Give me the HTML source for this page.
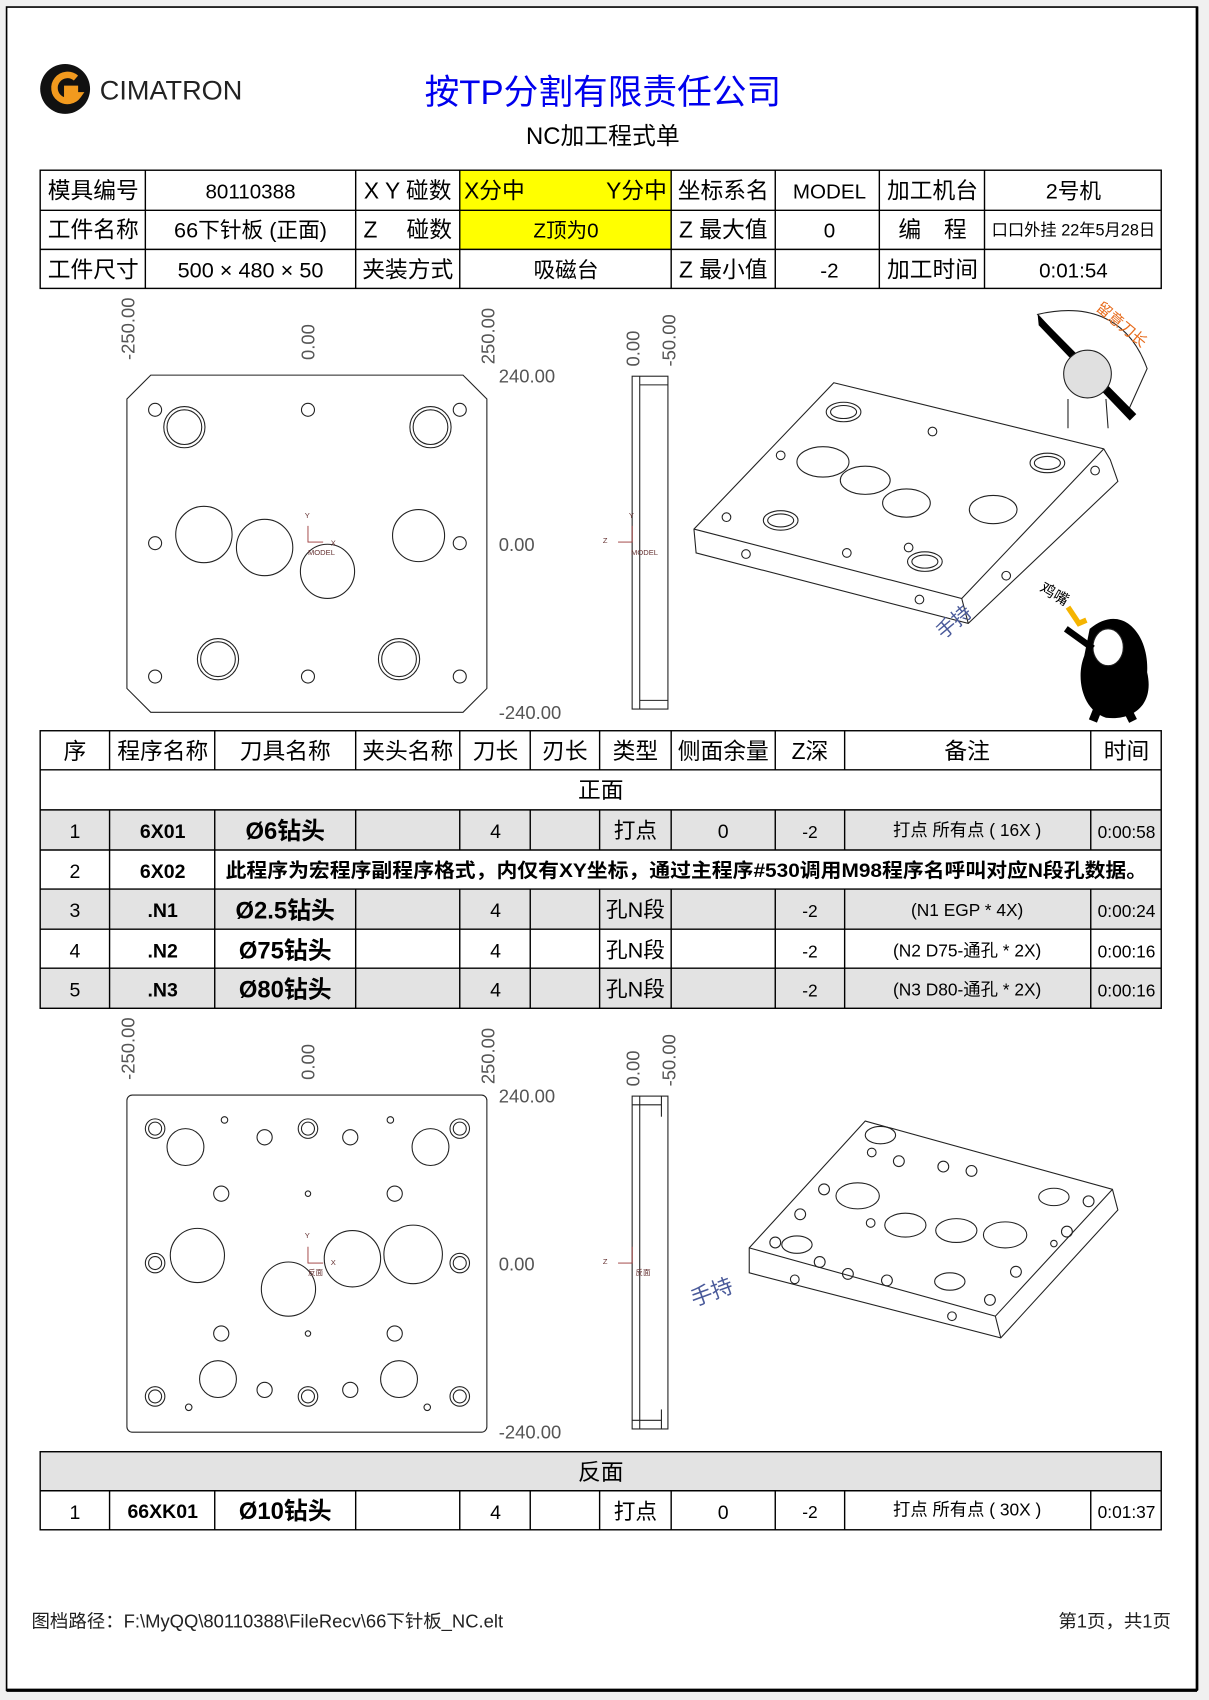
<!DOCTYPE html>
<html><head><meta charset="utf-8"><style>
html,body{margin:0;padding:0;background:#f0f0f0;}
svg{display:block;}
text{font-family:"Liberation Sans","Noto Sans CJK SC",sans-serif;}
</style></head><body>
<svg width="1209" height="1700" viewBox="0 0 1115 1568" xmlns="http://www.w3.org/2000/svg">
<rect x="0" y="0" width="1115" height="1568" fill="#f0f0f0"/>
<rect x="6" y="6.5" width="1098" height="1552.5" fill="#fff" stroke="#000" stroke-width="1.5"/>
<line x1="6" y1="1559" x2="1104" y2="1559" stroke="#000" stroke-width="3"/>
<line x1="1104" y1="6" x2="1104" y2="1559" stroke="#000" stroke-width="2.5"/>

<!-- logo -->
<circle cx="60" cy="82" r="23" fill="#111"/>
<path d="M70 72 A12 12 0 1 0 72 88 L62 88 L62 82 L72 82" fill="none" stroke="#f29a1e" stroke-width="6"/>
<text x="92" y="92" font-size="25" fill="#222">CIMATRON</text>
<text x="556" y="96" font-size="32" fill="#0000ee" text-anchor="middle">按TP分割有限责任公司</text>
<text x="556" y="133" font-size="22" fill="#000" text-anchor="middle">NC加工程式单</text>

<!-- table 1 -->
<rect x="424" y="157" width="195" height="73" fill="#ffff00"/>
<g stroke="#000" stroke-width="1.3" fill="none">
<rect x="37" y="157" width="1034" height="109"/>
<line x1="37" y1="194" x2="1071" y2="194"/><line x1="37" y1="230" x2="1071" y2="230"/>
<line x1="134" y1="157" x2="134" y2="266"/><line x1="328" y1="157" x2="328" y2="266"/>
<line x1="424" y1="157" x2="424" y2="266"/><line x1="619" y1="157" x2="619" y2="266"/>
<line x1="715" y1="157" x2="715" y2="266"/><line x1="811" y1="157" x2="811" y2="266"/>
<line x1="908" y1="157" x2="908" y2="266"/>
</g>
<g font-size="21" fill="#000" text-anchor="middle">
<text x="86" y="183">模具编号</text><text x="231" y="183" font-size="19">80110388</text>
<text x="376" y="183">X Y 碰数</text><text x="765" y="183" font-size="19">MODEL</text>
<text x="667" y="183">坐标系名</text><text x="860" y="183">加工机台</text><text x="990" y="183" font-size="20">2号机</text>
<text x="86" y="219">工件名称</text><text x="231" y="219" font-size="20">66下针板 (正面)</text>
<text x="376" y="219">Z　 碰数</text><text x="522" y="219" font-size="19">Z顶为0</text>
<text x="667" y="219">Z 最大值</text><text x="765" y="219" font-size="19">0</text>
<text x="860" y="219">编　程</text><text x="990" y="217" font-size="15">口口外挂 22年5月28日</text>
<text x="86" y="256">工件尺寸</text><text x="231" y="256" font-size="20">500 × 480 × 50</text>
<text x="376" y="256">夹装方式</text><text x="522" y="256" font-size="20">吸磁台</text>
<text x="667" y="256">Z 最小值</text><text x="765" y="256" font-size="19">-2</text>
<text x="860" y="256">加工时间</text><text x="990" y="256" font-size="19">0:01:54</text>
</g>
<text x="428" y="183" font-size="21">X分中</text><text x="615" y="183" font-size="21" text-anchor="end">Y分中</text>

<!-- top drawing -->
<g stroke="#222" stroke-width="1" fill="none">
<path d="M139 346 L427 346 L449 368 L449 635 L427 657 L139 657 L117 635 L117 368 Z"/>
<circle cx="143" cy="378" r="6"/><circle cx="284" cy="378" r="6"/><circle cx="424" cy="378" r="6"/>
<circle cx="143" cy="501" r="6"/><circle cx="424" cy="501" r="6"/>
<circle cx="143" cy="624" r="6"/><circle cx="284" cy="624" r="6"/><circle cx="424" cy="624" r="6"/>
<circle cx="170" cy="394" r="19"/><circle cx="170" cy="394" r="16"/>
<circle cx="397" cy="394" r="19"/><circle cx="397" cy="394" r="16"/>
<circle cx="201" cy="608" r="19"/><circle cx="201" cy="608" r="16"/>
<circle cx="368" cy="608" r="19"/><circle cx="368" cy="608" r="16"/>
<circle cx="188" cy="493" r="26"/><circle cx="244" cy="505" r="26"/>
<circle cx="302" cy="527" r="25"/><circle cx="386" cy="494" r="24"/>
<rect x="583" y="347" width="33" height="307"/>
<line x1="590" y1="347" x2="590" y2="654"/><line x1="590" y1="355" x2="616" y2="355"/><line x1="590" y1="646" x2="616" y2="646"/>
</g>
<g stroke="#933" stroke-width="0.8" fill="none"><path d="M284 485 V500 H298"/><path d="M583 485 V500 H570"/></g>
<g font-size="7" fill="#633"><text x="281" y="478">Y</text><text x="305" y="503">X</text><text x="284" y="512">MODEL</text>
<text x="556" y="501">Z</text><text x="582" y="512">MODEL</text><text x="580" y="478">Y</text></g>
<g font-size="17" fill="#555" font-family="Liberation Sans">
<text transform="translate(124,332) rotate(-90)">-250.00</text>
<text transform="translate(290,332) rotate(-90)">0.00</text>
<text transform="translate(456,336) rotate(-90)">250.00</text>
<text transform="translate(590,338) rotate(-90)">0.00</text>
<text transform="translate(623,338) rotate(-90)">-50.00</text>
<text x="460" y="353">240.00</text><text x="460" y="508">0.00</text><text x="460" y="663">-240.00</text>
</g>
<!-- iso top -->
<g stroke="#222" stroke-width="1" fill="none">
<path d="M769 353 L1018 414 L1024 424 L1031 444 L893 575 L642 510 L640 488 Z"/>
<path d="M640 488 L887 552 L1018 414 M887 552 L893 575"/>
<ellipse cx="759" cy="426" rx="24" ry="14"/><ellipse cx="798" cy="443" rx="23" ry="13"/>
<ellipse cx="836" cy="464" rx="22" ry="13"/><ellipse cx="916" cy="470" rx="22" ry="13"/>
<ellipse cx="778" cy="380" rx="16" ry="9"/><ellipse cx="778" cy="380" rx="12" ry="6"/>
<ellipse cx="720" cy="480" rx="16" ry="9"/><ellipse cx="720" cy="480" rx="12" ry="6"/>
<ellipse cx="853" cy="518" rx="16" ry="9"/><ellipse cx="853" cy="518" rx="12" ry="6"/>
<ellipse cx="966" cy="427" rx="16" ry="9"/><ellipse cx="966" cy="427" rx="12" ry="6"/>
<circle cx="720" cy="420" r="4"/><circle cx="670" cy="477" r="4"/><circle cx="838" cy="505" r="4"/>
<circle cx="1010" cy="434" r="4"/><circle cx="781" cy="510" r="4"/><circle cx="928" cy="531" r="4"/><circle cx="860" cy="398" r="4"/>
<circle cx="688" cy="511" r="4"/><circle cx="848" cy="553" r="4"/>
</g>
<!-- cartoons -->
<path d="M957 290 C1000 280 1040 290 1058 340 L1040 380 Z" fill="#fff" stroke="#222"/>
<path d="M957 290 L1048 382 L1042 388 L958 300 Z" fill="#000"/>
<circle cx="1003" cy="345" r="22" fill="#e0e0e0" stroke="#222"/>
<path d="M985 368 L985 395 M1020 368 L1022 395" stroke="#222"/>
<text transform="translate(1010,285) rotate(40)" font-size="14" fill="#e76b1c">留意刀长</text>
<path d="M1005 580 C1035 555 1060 585 1058 620 C1065 650 1045 665 1020 662 C998 655 992 625 1000 605 Z" fill="#000"/>
<ellipse cx="1022" cy="597" rx="14" ry="17" fill="#fff" stroke="#222"/>
<path d="M983 580 L1008 598" stroke="#000" stroke-width="6"/>
<path d="M1012 655 L1008 665 M1040 655 L1045 665" stroke="#000" stroke-width="8"/>
<path d="M985 560 L995 575 L1002 572" stroke="#f5b400" stroke-width="5" fill="none"/>
<text transform="translate(958,545) rotate(30)" font-size="14" fill="#000">鸡嘴</text>
<text transform="translate(870,590) rotate(-40)" font-size="18" fill="#4a5a9a">手持</text>

<!-- table 2 -->
<g fill="#e3e3e3"><rect x="37" y="747" width="1034" height="37"/><rect x="37" y="820" width="1034" height="37"/><rect x="37" y="893" width="1034" height="37"/><rect x="37" y="1339" width="1034" height="36"/></g>
<g stroke="#000" stroke-width="1.3" fill="none">
<rect x="37" y="674" width="1034" height="256"/>
<line x1="37" y1="710" x2="1071" y2="710"/><line x1="37" y1="747" x2="1071" y2="747"/>
<line x1="37" y1="784" x2="1071" y2="784"/><line x1="37" y1="820" x2="1071" y2="820"/>
<line x1="37" y1="857" x2="1071" y2="857"/><line x1="37" y1="893" x2="1071" y2="893"/>
<path d="M101 674V710M198 674V710M328 674V710M424 674V710M489 674V710M553 674V710M619 674V710M715 674V710M779 674V710M1006 674V710"/>
<path d="M101 747V784M198 747V784M328 747V784M424 747V784M489 747V784M553 747V784M619 747V784M715 747V784M779 747V784M1006 747V784"/>
<path d="M101 784V820M198 784V820"/>
<path d="M101 820V930M198 820V930M328 820V930M424 820V930M489 820V930M553 820V930M619 820V930M715 820V930M779 820V930M1006 820V930"/>
<rect x="37" y="1339" width="1034" height="72"/><line x1="37" y1="1375" x2="1071" y2="1375"/>
<path d="M101 1375V1411M198 1375V1411M328 1375V1411M424 1375V1411M489 1375V1411M553 1375V1411M619 1375V1411M715 1375V1411M779 1375V1411M1006 1375V1411"/>
</g>
<g font-size="21" fill="#000" text-anchor="middle">
<text x="69" y="700">序</text><text x="150" y="700">程序名称</text><text x="263" y="700">刀具名称</text><text x="376" y="700">夹头名称</text>
<text x="457" y="700">刀长</text><text x="521" y="700">刃长</text><text x="586" y="700">类型</text><text x="667" y="700">侧面余量</text>
<text x="747" y="700">Z深</text><text x="892" y="700">备注</text><text x="1039" y="700">时间</text>
<text x="554" y="736">正面</text>
<g font-size="18"><text x="69" y="773">1</text><text x="69" y="810">2</text><text x="69" y="846">3</text><text x="69" y="883">4</text><text x="69" y="919">5</text></g>
<g font-size="18" font-weight="bold"><text x="150" y="773">6X01</text><text x="150" y="810">6X02</text><text x="150" y="846">.N1</text><text x="150" y="883">.N2</text><text x="150" y="919">.N3</text></g>
<g font-size="22" font-weight="bold"><text x="263" y="774">Ø6钻头</text><text x="263" y="847">Ø2.5钻头</text><text x="263" y="884">Ø75钻头</text><text x="263" y="920">Ø80钻头</text></g>
<g font-size="18"><text x="457" y="773">4</text><text x="457" y="846">4</text><text x="457" y="883">4</text><text x="457" y="919">4</text></g>
<g font-size="20"><text x="586" y="773">打点</text><text x="586" y="846">孔N段</text><text x="586" y="883">孔N段</text><text x="586" y="919">孔N段</text></g>
<text x="667" y="773" font-size="18">0</text>
<g font-size="16"><text x="747" y="773">-2</text><text x="747" y="846">-2</text><text x="747" y="883">-2</text><text x="747" y="919">-2</text>
<text x="892" y="771">打点 所有点 ( 16X )</text><text x="892" y="845">(N1  EGP * 4X)</text><text x="892" y="882">(N2  D75-通孔 * 2X)</text><text x="892" y="918">(N3  D80-通孔 * 2X)</text>
<text x="1039" y="773">0:00:58</text><text x="1039" y="846">0:00:24</text><text x="1039" y="883">0:00:16</text><text x="1039" y="919">0:00:16</text></g>
</g>
<text x="208" y="809" font-size="18" font-weight="bold" textLength="850" lengthAdjust="spacingAndGlyphs">此程序为宏程序副程序格式，内仅有XY坐标，通过主程序#530调用M98程序名呼叫对应N段孔数据。</text>

<!-- bottom drawing -->
<g stroke="#222" stroke-width="1" fill="none">
<rect x="117" y="1010" width="332" height="311" rx="5"/>
<g><circle cx="143" cy="1041" r="9"/><circle cx="143" cy="1041" r="6"/><circle cx="284" cy="1041" r="9"/><circle cx="284" cy="1041" r="6"/><circle cx="424" cy="1041" r="9"/><circle cx="424" cy="1041" r="6"/>
<circle cx="143" cy="1165" r="9"/><circle cx="143" cy="1165" r="6"/><circle cx="424" cy="1165" r="9"/><circle cx="424" cy="1165" r="6"/>
<circle cx="143" cy="1288" r="9"/><circle cx="143" cy="1288" r="6"/><circle cx="284" cy="1288" r="9"/><circle cx="284" cy="1288" r="6"/><circle cx="424" cy="1288" r="9"/><circle cx="424" cy="1288" r="6"/></g>
<circle cx="171" cy="1058" r="17"/><circle cx="397" cy="1058" r="17"/><circle cx="201" cy="1272" r="17"/><circle cx="368" cy="1272" r="17"/>
<circle cx="182" cy="1158" r="25"/><circle cx="266" cy="1189" r="25"/><circle cx="325" cy="1161" r="26"/><circle cx="381" cy="1157" r="27"/>
<circle cx="244" cy="1049" r="7"/><circle cx="323" cy="1049" r="7"/><circle cx="204" cy="1101" r="7"/><circle cx="364" cy="1101" r="7"/>
<circle cx="204" cy="1230" r="7"/><circle cx="364" cy="1230" r="7"/><circle cx="244" cy="1282" r="7"/><circle cx="323" cy="1282" r="7"/>
<circle cx="207" cy="1033" r="3"/><circle cx="360" cy="1033" r="3"/><circle cx="284" cy="1101" r="2.5"/><circle cx="284" cy="1230" r="2.5"/><circle cx="174" cy="1298" r="3"/><circle cx="394" cy="1298" r="3"/>
<rect x="583" y="1011" width="33" height="307"/>
<line x1="590" y1="1011" x2="590" y2="1318"/><line x1="583" y1="1019" x2="610" y2="1019"/><line x1="610" y1="1011" x2="610" y2="1030"/><line x1="583" y1="1310" x2="610" y2="1310"/><line x1="610" y1="1300" x2="610" y2="1318"/>
<!-- iso bottom -->
<path d="M798 1034 L1026 1097 L1031 1116 L923 1234 L691 1174 L691 1151 Z"/>
<path d="M691 1151 L918 1214 L1026 1097 M918 1214 L923 1234"/>
<ellipse cx="791" cy="1103" rx="20" ry="12"/><ellipse cx="835" cy="1130" rx="19" ry="11"/><ellipse cx="882" cy="1135" rx="19" ry="11"/>
<ellipse cx="927" cy="1139" rx="20" ry="12"/><ellipse cx="972" cy="1104" rx="14" ry="8"/><ellipse cx="812" cy="1047" rx="14" ry="8"/>
<ellipse cx="735" cy="1148" rx="14" ry="8"/><ellipse cx="876" cy="1182" rx="14" ry="8"/>
<circle cx="804" cy="1063" r="4"/><circle cx="829" cy="1071" r="5"/><circle cx="870" cy="1076" r="5"/><circle cx="896" cy="1080" r="5"/>
<circle cx="760" cy="1097" r="5"/><circle cx="1004" cy="1108" r="5"/><circle cx="738" cy="1120" r="5"/><circle cx="803" cy="1128" r="4"/>
<circle cx="715" cy="1146" r="5"/><circle cx="756" cy="1164" r="5"/><circle cx="782" cy="1175" r="5"/><circle cx="818" cy="1181" r="5"/>
<circle cx="913" cy="1199" r="5"/><circle cx="984" cy="1136" r="5"/><circle cx="937" cy="1173" r="5"/><circle cx="972" cy="1147" r="3"/>
<circle cx="733" cy="1180" r="4"/><circle cx="878" cy="1214" r="4"/>
</g>
<g stroke="#933" stroke-width="0.8" fill="none"><path d="M284 1150 V1165 H298"/><path d="M583 1150 V1165 H570"/></g>
<g font-size="7" fill="#633"><text x="281" y="1142">Y</text><text x="305" y="1167">X</text><text x="284" y="1176">反面</text>
<text x="556" y="1166">Z</text><text x="586" y="1176">反面</text></g>
<g font-size="17" fill="#555">
<text transform="translate(124,996) rotate(-90)">-250.00</text>
<text transform="translate(290,996) rotate(-90)">0.00</text>
<text transform="translate(456,1000) rotate(-90)">250.00</text>
<text transform="translate(590,1002) rotate(-90)">0.00</text>
<text transform="translate(623,1002) rotate(-90)">-50.00</text>
<text x="460" y="1017">240.00</text><text x="460" y="1172">0.00</text><text x="460" y="1327">-240.00</text>
</g>
<text transform="translate(640,1205) rotate(-20)" font-size="20" fill="#4a5a9a">手持</text>

<g font-size="21" fill="#000" text-anchor="middle"><text x="554" y="1365">反面</text>
<text x="69" y="1401" font-size="18">1</text><text x="150" y="1400" font-size="18" font-weight="bold">66XK01</text>
<text x="263" y="1401" font-size="22" font-weight="bold">Ø10钻头</text><text x="457" y="1401" font-size="18">4</text>
<text x="586" y="1401" font-size="20">打点</text><text x="667" y="1401" font-size="18">0</text>
<text x="747" y="1400" font-size="16">-2</text><text x="892" y="1398" font-size="16">打点 所有点 ( 30X )</text><text x="1039" y="1400" font-size="16">0:01:37</text></g>

<text x="29" y="1501" font-size="17" fill="#222">图档路径：F:\MyQQ\80110388\FileRecv\66下针板_NC.elt</text>
<text x="1080" y="1501" font-size="17" fill="#222" text-anchor="end">第1页，共1页</text>
</svg>
</body></html>
